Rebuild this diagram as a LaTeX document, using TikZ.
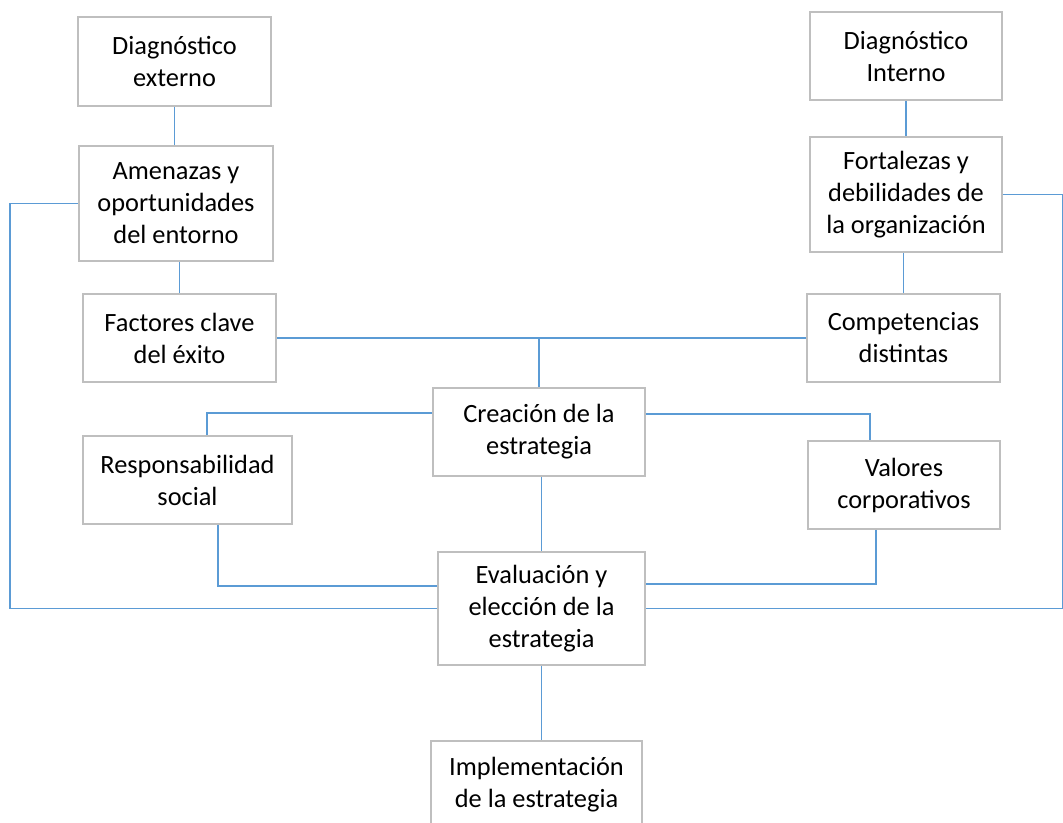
\documentclass[tikz,border=0pt]{standalone}
\usepackage{fontspec}
\setmainfont{Carlito}
\usepackage{xcolor}
\usepackage{tikz}
\definecolor{boxgray}{HTML}{BFBFBF}
\definecolor{linkblue}{HTML}{5B9BD5}

\begin{document}
\begin{tikzpicture}[
    stage/.style={rectangle, draw=boxgray, line width=0.9pt, fill=white, align=center,
                  minimum width=3.86cm, minimum height=1.76cm, inner sep=2pt,
                  font=\fontsize{15}{18.2}\selectfont},
    link/.style={draw=linkblue, line width=0.95pt}
]
\useasboundingbox (0, 0) rectangle (21.26, 16.44);

% Left column
\node[stage, minimum height=1.78cm] (dext) at (3.49, 15.21) {Diagnóstico\\externo};
\node[stage, minimum width=3.88cm, minimum height=2.30cm] (amen) at (3.52, 12.37) {Amenazas y\\oportunidades\\del entorno};
\node[stage] (fact) at (3.59, 9.68) {Factores clave\\del éxito};
\node[stage, minimum width=4.18cm] (resp) at (3.75, 6.84) {Responsabilidad\\social};

% Right column
\node[stage, minimum width=3.84cm] (dint) at (18.12, 15.32) {Diagnóstico\\Interno};
\node[stage, minimum width=3.84cm, minimum height=2.30cm] (fort) at (18.12, 12.55) {Fortalezas y\\debilidades de\\la organización};
\node[stage] (comp) at (18.07, 9.68) {Competencias\\distintas};
\node[stage, minimum width=3.84cm] (valo) at (18.08, 6.74) {Valores\\corporativos};

% Middle column
\node[stage, minimum width=4.24cm] (crea) at (10.78, 7.80) {Creación de la\\estrategia};
\node[stage, minimum width=4.14cm, minimum height=2.26cm] (eval) at (10.83, 4.27) {Evaluación y\\elección de la\\estrategia};
\node[stage, minimum width=4.22cm] (impl) at (10.73, 0.74) {Implementación\\de la estrategia};

% Links
\draw[link] (dext.south) -- (dext.south |- amen.north);
\draw[link] (fact.north) -- (fact.north |- amen.south);
\draw[link] (dint.south) -- (fort.north);
\draw[link] (comp.north) -- (comp.north |- fort.south);
\draw[link] (fact.east) -- (comp.west);
\draw[link] (crea.north) -- (crea.north |- fact.east);
\draw[link] ([yshift=0.38cm]crea.west) -| ([xshift=0.39cm]resp.north);
\draw[link] ([yshift=0.36cm]crea.east) -| ([xshift=-0.68cm]valo.north);
\draw[link] (eval.north) -- (eval.north |- crea.south);
\draw[link] ([xshift=0.61cm]resp.south) |- ([yshift=0.45cm]eval.west);
\draw[link] ([xshift=-0.56cm]valo.south) |- ([yshift=0.49cm]eval.east);
\draw[link] (amen.west) -- ++(-1.36, 0) |- (eval.west);
\draw[link] (fort.east) -- ++(1.2, 0) |- (eval.east);
\draw[link] (eval.south) -- (eval.south |- impl.north);

\end{tikzpicture}
\end{document}
